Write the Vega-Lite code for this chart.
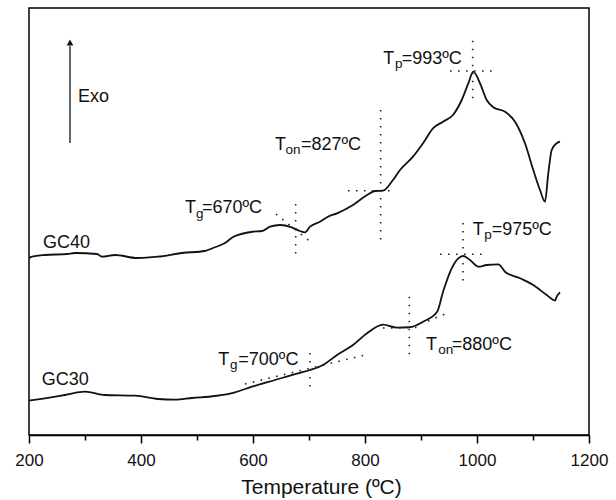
{
  "$schema": "https://vega.github.io/schema/vega-lite/v6.json",
  "width": 560,
  "height": 427,
  "autosize": "none",
  "padding": {"left": 29, "top": 8, "right": 27, "bottom": 65},
  "background": "white",
  "config": {
    "font": "Liberation Sans",
    "view": {"stroke": "#000", "strokeWidth": 1.5},
    "axis": {"grid": false}
  },
  "datasets": {
    "curves": [
      {"s": "GC40", "t": 200, "v": 176.7}, {"s": "GC40", "t": 205.4, "v": 178.3}, {"s": "GC40", "t": 228.6, "v": 180},
      {"s": "GC40", "t": 267.9, "v": 181}, {"s": "GC40", "t": 282.1, "v": 182}, {"s": "GC40", "t": 321.4, "v": 181},
      {"s": "GC40", "t": 330.4, "v": 178.3}, {"s": "GC40", "t": 353.6, "v": 180}, {"s": "GC40", "t": 392.9, "v": 177},
      {"s": "GC40", "t": 430.4, "v": 178.3}, {"s": "GC40", "t": 473.2, "v": 182}, {"s": "GC40", "t": 514.3, "v": 184},
      {"s": "GC40", "t": 528.6, "v": 187}, {"s": "GC40", "t": 550, "v": 192}, {"s": "GC40", "t": 564.3, "v": 198},
      {"s": "GC40", "t": 600, "v": 203.3}, {"s": "GC40", "t": 616.1, "v": 204}, {"s": "GC40", "t": 630.4, "v": 208.3},
      {"s": "GC40", "t": 648.2, "v": 210}, {"s": "GC40", "t": 669.1, "v": 207.7}, {"s": "GC40", "t": 683.9, "v": 204},
      {"s": "GC40", "t": 692.9, "v": 202.7}, {"s": "GC40", "t": 701.8, "v": 208.3}, {"s": "GC40", "t": 719.6, "v": 213.3},
      {"s": "GC40", "t": 733.9, "v": 218.3}, {"s": "GC40", "t": 750, "v": 221.7}, {"s": "GC40", "t": 778.6, "v": 230},
      {"s": "GC40", "t": 803.6, "v": 240}, {"s": "GC40", "t": 817.9, "v": 244}, {"s": "GC40", "t": 832.1, "v": 244.3},
      {"s": "GC40", "t": 850, "v": 255}, {"s": "GC40", "t": 862.5, "v": 265}, {"s": "GC40", "t": 885.7, "v": 278.3},
      {"s": "GC40", "t": 903.6, "v": 291.7}, {"s": "GC40", "t": 921.4, "v": 306.7}, {"s": "GC40", "t": 939.3, "v": 313.3},
      {"s": "GC40", "t": 957.1, "v": 320}, {"s": "GC40", "t": 972.7, "v": 335}, {"s": "GC40", "t": 984.5, "v": 351.7},
      {"s": "GC40", "t": 993.4, "v": 363.3}, {"s": "GC40", "t": 1005.4, "v": 351.7}, {"s": "GC40", "t": 1017.3, "v": 335},
      {"s": "GC40", "t": 1029.1, "v": 327.7}, {"s": "GC40", "t": 1050, "v": 323.3}, {"s": "GC40", "t": 1067.9, "v": 313.3},
      {"s": "GC40", "t": 1085.7, "v": 291.7}, {"s": "GC40", "t": 1100.5, "v": 265}, {"s": "GC40", "t": 1112.5, "v": 245},
      {"s": "GC40", "t": 1121.4, "v": 233.3}, {"s": "GC40", "t": 1127.3, "v": 261.7}, {"s": "GC40", "t": 1133.4, "v": 285},
      {"s": "GC40", "t": 1142.3, "v": 291.7}, {"s": "GC40", "t": 1148.2, "v": 293.3},
      {"s": "GC30", "t": 200, "v": 34.3}, {"s": "GC30", "t": 228.6, "v": 36.7}, {"s": "GC30", "t": 264.3, "v": 40},
      {"s": "GC30", "t": 300, "v": 43.3}, {"s": "GC30", "t": 335.7, "v": 40}, {"s": "GC30", "t": 389.3, "v": 39.3},
      {"s": "GC30", "t": 430.4, "v": 36}, {"s": "GC30", "t": 460.7, "v": 35.3}, {"s": "GC30", "t": 491.1, "v": 37},
      {"s": "GC30", "t": 532.1, "v": 39}, {"s": "GC30", "t": 567.9, "v": 42.7}, {"s": "GC30", "t": 598.2, "v": 48.3},
      {"s": "GC30", "t": 639.3, "v": 55}, {"s": "GC30", "t": 680.4, "v": 61.7}, {"s": "GC30", "t": 701.8, "v": 65},
      {"s": "GC30", "t": 725, "v": 70}, {"s": "GC30", "t": 750, "v": 80}, {"s": "GC30", "t": 778.6, "v": 90},
      {"s": "GC30", "t": 803.6, "v": 101.7}, {"s": "GC30", "t": 832.1, "v": 110.3}, {"s": "GC30", "t": 857.1, "v": 107.3},
      {"s": "GC30", "t": 880.4, "v": 107.8}, {"s": "GC30", "t": 903.6, "v": 113.3}, {"s": "GC30", "t": 928.6, "v": 123},
      {"s": "GC30", "t": 939.8, "v": 144}, {"s": "GC30", "t": 954.8, "v": 166.7}, {"s": "GC30", "t": 966.6, "v": 176.7},
      {"s": "GC30", "t": 975.5, "v": 179}, {"s": "GC30", "t": 987.5, "v": 175}, {"s": "GC30", "t": 1002.3, "v": 168.3},
      {"s": "GC30", "t": 1017.3, "v": 170}, {"s": "GC30", "t": 1038, "v": 170.7}, {"s": "GC30", "t": 1050, "v": 163.3},
      {"s": "GC30", "t": 1076.8, "v": 156.7}, {"s": "GC30", "t": 1100.5, "v": 150}, {"s": "GC30", "t": 1124.5, "v": 140},
      {"s": "GC30", "t": 1139.3, "v": 134.5}, {"s": "GC30", "t": 1142.3, "v": 138.3}, {"s": "GC30", "t": 1148.2, "v": 142.7}
    ],
    "guides": [
      {"g": "GC40 Tg vertical", "x1": 676.2, "y1": 231, "x2": 676.2, "y2": 179},
      {"g": "GC40 Tg tangent", "x1": 641.1, "y1": 221, "x2": 707.1, "y2": 191},
      {"g": "GC40 Ton vertical", "x1": 828, "y1": 325, "x2": 828, "y2": 195},
      {"g": "GC40 Ton baseline", "x1": 769.6, "y1": 244.3, "x2": 848.2, "y2": 244.3},
      {"g": "GC40 Tp vertical", "x1": 992.3, "y1": 394.3, "x2": 992.3, "y2": 333.3},
      {"g": "GC40 Tp horizontal", "x1": 951.8, "y1": 364, "x2": 1032.1, "y2": 364},
      {"g": "GC30 Tg vertical", "x1": 701.8, "y1": 82, "x2": 701.8, "y2": 45},
      {"g": "GC30 Tg tangent", "x1": 585.7, "y1": 51, "x2": 800, "y2": 80},
      {"g": "GC30 Ton vertical", "x1": 879.1, "y1": 138.3, "x2": 879.1, "y2": 77},
      {"g": "GC30 Ton baseline", "x1": 832.1, "y1": 107, "x2": 898.2, "y2": 107.5},
      {"g": "GC30 Ton tangent", "x1": 912.5, "y1": 114, "x2": 942.9, "y2": 121},
      {"g": "GC30 Tp vertical", "x1": 975, "y1": 212, "x2": 975, "y2": 148.3},
      {"g": "GC30 Tp horizontal", "x1": 933.9, "y1": 180.7, "x2": 1014.3, "y2": 180.7}
    ],
    "labels": [
      {"kind": "main", "x": 478.6, "y": 221.7, "txt": "T"},
      {"kind": "sub", "x": 498.2, "y": 217.5, "txt": "g"},
      {"kind": "main", "x": 508.9, "y": 221.7, "txt": "=670ºC"},
      {"kind": "main", "x": 639.3, "y": 285.5, "txt": "T"},
      {"kind": "sub", "x": 658, "y": 281.5, "txt": "on"},
      {"kind": "main", "x": 685.5, "y": 285.5, "txt": "=827ºC"},
      {"kind": "main", "x": 832.7, "y": 371, "txt": "T"},
      {"kind": "sub", "x": 853.6, "y": 367, "txt": "p"},
      {"kind": "main", "x": 865.5, "y": 371, "txt": "=993ºC"},
      {"kind": "main", "x": 992.3, "y": 200, "txt": "T"},
      {"kind": "sub", "x": 1013, "y": 196, "txt": "p"},
      {"kind": "main", "x": 1026.3, "y": 200, "txt": "=975ºC"},
      {"kind": "main", "x": 538, "y": 70, "txt": "T"},
      {"kind": "sub", "x": 558.9, "y": 66, "txt": "g"},
      {"kind": "main", "x": 573.8, "y": 70, "txt": "=700ºC"},
      {"kind": "main", "x": 908.9, "y": 85, "txt": "T"},
      {"kind": "sub", "x": 930.9, "y": 81, "txt": "on"},
      {"kind": "main", "x": 955, "y": 85, "txt": "=880ºC"},
      {"kind": "main", "x": 225, "y": 186.7, "txt": "GC40"},
      {"kind": "main", "x": 222.7, "y": 50, "txt": "GC30"},
      {"kind": "main", "x": 287.5, "y": 332.7, "txt": "Exo"}
    ],
    "arrow": [
      {"x": 273.2, "y1": 292, "y2": 389, "tip": 392.5}
    ]
  },
  "layer": [
    {
      "data": {"name": "curves"},
      "mark": {"type": "line", "color": "#111", "strokeWidth": 1.8, "interpolate": "monotone", "strokeJoin": "round"},
      "encoding": {
        "x": {
          "field": "t", "type": "quantitative",
          "scale": {"domain": [200, 1200], "nice": false, "zero": false},
          "axis": {
            "title": "Temperature (ºC)",
            "values": [200, 300, 400, 500, 600, 700, 800, 900, 1000, 1100, 1200],
            "format": "d",
            "labelExpr": "datum.value % 200 === 0 ? datum.label : ''",
            "tickSize": {"condition": {"test": "datum.value % 200 === 0", "value": 8}, "value": 5},
            "tickColor": "#000", "tickWidth": 1.5,
            "domainColor": "#000", "domainWidth": 1.5,
            "labelFontSize": 17, "labelColor": "#111", "labelPadding": 9,
            "labelFlush": false, "labelOverlap": false,
            "titleFontSize": 21, "titleFontWeight": "normal", "titleColor": "#111", "titlePadding": 8,
            "titleX": 292
          }
        },
        "y": {
          "field": "v", "type": "quantitative",
          "scale": {"domain": [0, 427], "nice": false, "zero": false},
          "axis": null
        },
        "detail": {"field": "s", "type": "nominal"}
      }
    },
    {
      "data": {"name": "guides"},
      "mark": {"type": "rule", "color": "#222", "strokeWidth": 1.6, "strokeDash": [1.6, 6.4]},
      "encoding": {
        "x": {"field": "x1", "type": "quantitative"},
        "y": {"field": "y1", "type": "quantitative"},
        "x2": {"field": "x2"},
        "y2": {"field": "y2"}
      }
    },
    {
      "data": {"name": "labels"},
      "transform": [{"filter": "datum.kind === 'main'"}],
      "mark": {"type": "text", "align": "left", "baseline": "alphabetic", "fontSize": 18, "color": "#111"},
      "encoding": {
        "x": {"field": "x", "type": "quantitative"},
        "y": {"field": "y", "type": "quantitative"},
        "text": {"field": "txt"}
      }
    },
    {
      "data": {"name": "labels"},
      "transform": [{"filter": "datum.kind === 'sub'"}],
      "mark": {"type": "text", "align": "left", "baseline": "alphabetic", "fontSize": 13.5, "color": "#111"},
      "encoding": {
        "x": {"field": "x", "type": "quantitative"},
        "y": {"field": "y", "type": "quantitative"},
        "text": {"field": "txt"}
      }
    },
    {
      "data": {"name": "arrow"},
      "mark": {"type": "rule", "color": "#333", "strokeWidth": 1.5},
      "encoding": {
        "x": {"field": "x", "type": "quantitative"},
        "y": {"field": "y1", "type": "quantitative"},
        "y2": {"field": "y2"}
      }
    },
    {
      "data": {"name": "arrow"},
      "mark": {"type": "point", "shape": "triangle-up", "filled": true, "color": "#111", "size": 45, "opacity": 1},
      "encoding": {
        "x": {"field": "x", "type": "quantitative"},
        "y": {"field": "tip", "type": "quantitative"}
      }
    }
  ]
}
